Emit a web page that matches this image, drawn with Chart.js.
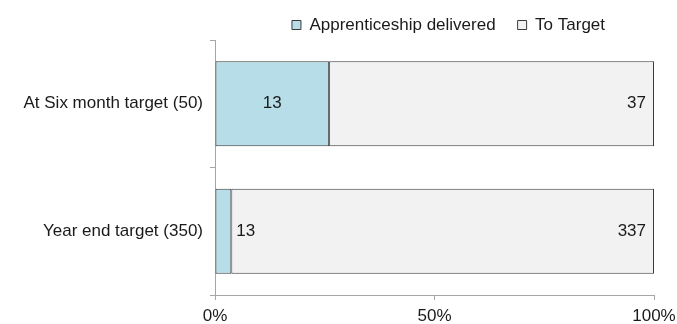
<!DOCTYPE html>
<html>
<head>
<meta charset="utf-8">
<script src="https://cdn.jsdelivr.net/npm/chart.js@4"></script>
<style>
  html, body { margin:0; padding:0; background:#fff; }
  #wrap { width:677px; height:324px; }
</style>
</head>
<body>
<div id="wrap"><canvas id="chart"></canvas></div>
<script>
/* ====== data ====== */
const categories = ["At Six month target (50)", "Year end target (350)"];
const delivered  = [13, 13];
const toTarget   = [37, 337];
const xTicks     = [0, 50, 100];

const totals = categories.map((c,i)=>delivered[i]+toTarget[i]);
const pct = arr => arr.map((v,i)=>v/totals[i]*100);

const FONT = "'Liberation Sans', Arial, sans-serif";
const FS = 17;

/* legend: wide gap between items but a short box, nudged right */
const legendBox = {
  id:'legendBox',
  beforeInit(chart){
    const lg = chart.legend;
    const fit = lg.fit;
    lg.fit = function(){ fit.call(this); this.height = 45.5; };
  },
  afterLayout(chart){
    chart.legend.left += 14;
    chart.legend.right += 14;
  }
};

/* value labels: counts drawn inside / next to segments */
const valueLabels = {
  id:'valueLabels',
  afterDatasetsDraw(chart){
    const ctx = chart.ctx;
    ctx.save();
    ctx.font = FS + "px " + FONT;
    ctx.fillStyle = "#1a1a1a";
    ctx.textBaseline = "middle";
    chart.data.datasets.forEach((ds,di)=>{
      chart.getDatasetMeta(di).data.forEach((bar,i)=>{
        const txt = String(ds.raw[i]);
        const w = ctx.measureText(txt).width;
        const left = bar.base, right = bar.x;
        if(di===0){
          if(right-left > w+10){
            ctx.textAlign = "center";
            ctx.fillText(txt, (left+right)/2, bar.y);
          }else{
            ctx.textAlign = "left";
            ctx.fillText(txt, right+5, bar.y);
          }
        }else{
          ctx.textAlign = "right";
          ctx.fillText(txt, right-8, bar.y);
        }
      });
    });
    ctx.restore();
  }
};

new Chart(document.getElementById('chart'), {
  type:'bar',
  data:{
    labels:categories,
    datasets:[
      {label:'Apprenticeship delivered', data:pct(delivered), raw:delivered,
       backgroundColor:'#b7dde8', borderColor:'#3a3a3a', borderWidth:1, borderSkipped:false},
      {label:'To Target', data:pct(toTarget), raw:toTarget,
       backgroundColor:'#f2f2f2', borderColor:'#3a3a3a', borderWidth:1, borderSkipped:false}
    ]
  },
  options:{
    indexAxis:'y',
    responsive:true,
    maintainAspectRatio:false,
    animation:false,
    layout:{padding:{left:0, right:23, top:-5.5, bottom:0}},
    datasets:{bar:{categoryPercentage:1, barPercentage:0.667}},
    plugins:{
      tooltip:{enabled:false},
      legend:{
        position:'top',
        fullSize:false,
        labels:{
          boxWidth:9, boxHeight:9, padding:22, color:'#1a1a1a',
          font:{family:FONT, size:FS}
        }
      }
    },
    scales:{
      x:{
        stacked:true, min:0, max:100,
        afterBuildTicks: s => { s.ticks = xTicks.map(v=>({value:v})); },
        afterFit: s => { s.height = 29; s.paddingLeft = 0; s.paddingRight = 0; },
        ticks:{callback:v=>v+'%', color:'#1a1a1a', font:{family:FONT, size:FS}, padding:6, maxRotation:0},
        grid:{drawOnChartArea:false, drawTicks:true, tickLength:5, color:'#a6a6a6'},
        border:{color:'#a6a6a6'}
      },
      y:{
        stacked:true,
        afterFit: s => { s.width = 215; },
        ticks:{color:'#1a1a1a', font:{family:FONT, size:FS}, padding:7},
        grid:{offset:true, drawOnChartArea:false, drawTicks:true, tickLength:5, color:'#a6a6a6'},
        border:{color:'#a6a6a6'}
      }
    }
  },
  plugins:[legendBox, valueLabels]
});
</script>
</body>
</html>
